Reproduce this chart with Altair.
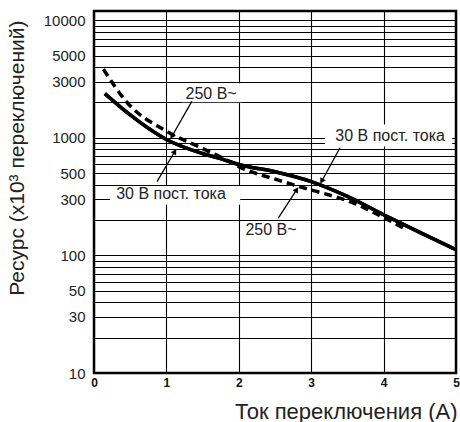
import altair as alt
import pandas as pd

# ---- data ----
solid_x = [0.15, 0.46, 1.0, 1.5, 1.79, 2.0, 2.5, 3.0, 3.5, 4.0, 4.5, 5.0]
solid_y = [2380, 1640, 970, 736, 654, 593, 515, 425, 318, 222, 157, 112]

dash_x = [0.13, 0.46, 1.0, 1.5, 1.79, 2.0, 2.6, 2.98, 3.12, 3.58, 4.04, 4.27]
dash_y = [3830, 1990, 1140, 812, 667, 570, 427, 363, 344, 280, 204, 172]

x_ticks = [0, 1, 2, 3, 4, 5]
y_grid = [m * 10 ** k for k in (1, 2, 3) for m in range(1, 10)] + [10000]
y_labels = [10, 30, 50, 100, 300, 500, 1000, 3000, 5000, 10000]

# annotations (data coordinates)
label_text = ["250 В~", "30 В пост. тока", "30 В пост. тока", "250 В~"]
label_x = [1.617, 1.063, 4.09, 2.445]
label_y = [2344, 330, 1047, 166]

box_x = [1.21, 0.22, 3.19]
box_x2 = [2.04, 2.02, 4.947]
box_y = [2005, 270, 845]
box_y2 = [2912, 390, 1300]

arrow_x = [1.351, 0.870, 3.398, 2.545]
arrow_y = [2042, 425, 824, 208]
arrow_x2 = [1.075, 1.116, 3.145, 2.80]
arrow_y2 = [1028, 766, 428, 363]
arrow_angle = [210, 31, 209, 33]

solid = pd.DataFrame({"x": solid_x, "y": solid_y})
dashed = pd.DataFrame({"x": dash_x, "y": dash_y})
labels = pd.DataFrame({"t": label_text, "x": label_x, "y": label_y})
boxes = pd.DataFrame({"x": box_x, "x2": box_x2, "y": box_y, "y2": box_y2})
arrows = pd.DataFrame({"x": arrow_x, "y": arrow_y, "x2": arrow_x2,
                       "y2": arrow_y2, "a": arrow_angle})

FONT = "Liberation Sans"

lab_list = ",".join(str(v) for v in y_labels)

xscale = alt.Scale(domain=[0, 5], nice=False, zero=False)
yscale = alt.Scale(type="log", domain=[10, 12000], nice=False)

xaxis = alt.Axis(
    values=x_ticks, format="d", grid=True, gridColor="#000", gridWidth=1.1,
    gridOpacity=1, ticks=False, domain=False, labelFont=FONT,
    labelFontWeight="bold", labelFontSize=12, labelColor="#111",
    labelPadding=4, labelFlush=False,
    title="Ток переключения (А)", titleFont=FONT, titleFontSize=22,
    titleFontWeight="normal", titleColor="#222", titleAlign="right",
    titleX=363, titleY=38, titleBaseline="middle",
)
yaxis = alt.Axis(
    values=y_grid, grid=True, gridColor="#000", gridWidth=1, gridOpacity=1,
    ticks=False, domain=False, labelFont=FONT, labelFontSize=15,
    labelColor="#222", labelPadding=9, labelFlush=False, labelOverlap=False,
    labelExpr=f"indexof([{lab_list}], datum.value) >= 0 ? format(datum.value, 'd') : ''",
    title="Ресурс (x10³ переключений)", titleFont=FONT, titleFontSize=21,
    titleFontWeight="normal", titleColor="#222", titleAngle=-90,
    titleAlign="right", titleBaseline="middle", titleX=-77, titleY=9,
)

base_solid = alt.Chart(solid).mark_line(
    color="#000", strokeWidth=3.5, interpolate="monotone", clip=True
).encode(
    x=alt.X("x:Q", scale=xscale, axis=xaxis),
    y=alt.Y("y:Q", scale=yscale, axis=yaxis),
)

dash_line = alt.Chart(dashed).mark_line(
    color="#000", strokeWidth=3.5, strokeDash=[8, 5], interpolate="monotone", clip=True
).encode(x=alt.X("x:Q", scale=xscale), y=alt.Y("y:Q", scale=yscale))

box_layer = alt.Chart(boxes).mark_rect(fill="white").encode(
    x=alt.X("x:Q", scale=xscale), x2="x2:Q",
    y=alt.Y("y:Q", scale=yscale), y2="y2:Q",
)

text_layer = alt.Chart(labels).mark_text(
    font=FONT, fontSize=16, color="#222", align="center", baseline="middle"
).encode(x=alt.X("x:Q", scale=xscale), y=alt.Y("y:Q", scale=yscale), text="t:N")

arrow_lines = alt.Chart(arrows).mark_rule(color="#000", strokeWidth=1.3).encode(
    x=alt.X("x:Q", scale=xscale), x2="x2:Q",
    y=alt.Y("y:Q", scale=yscale), y2="y2:Q",
)

arrow_heads = alt.Chart(arrows).mark_point(
    shape="triangle-up", filled=True, color="#000", size=40, opacity=1
).encode(
    x=alt.X("x2:Q", scale=xscale), y=alt.Y("y2:Q", scale=yscale),
    angle=alt.Angle("a:Q", scale=None),
)

chart = alt.layer(
    base_solid, box_layer, dash_line, base_solid, text_layer, arrow_lines, arrow_heads
).properties(
    width=362, height=362,
    autosize=alt.AutoSizeParams(type="none"),
    padding={"left": 94, "top": 11, "right": 4, "bottom": 49},
    background="white",
).configure_view(stroke="#000", strokeWidth=2.5)

chart.save("out.html", embed_options={"renderer": "svg", "actions": False})
